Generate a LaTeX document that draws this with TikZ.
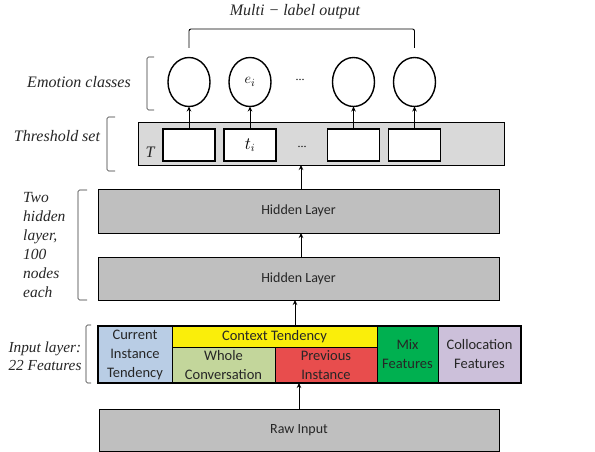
\documentclass[tikz,border=0pt]{standalone}
\usepackage{fontspec}
\setmainfont{Liberation Serif}
\newfontfamily\carl{Carlito}
\usetikzlibrary{arrows.meta,shapes.geometric}
\definecolor{hgray}{RGB}{191,191,191}
\definecolor{tgray}{RGB}{217,217,217}
\definecolor{cblue}{RGB}{185,205,229}
\definecolor{cyellow}{RGB}{250,238,10}
\definecolor{clgreen}{RGB}{195,214,155}
\definecolor{cred}{RGB}{232,77,77}
\definecolor{cgreen}{RGB}{0,176,80}
\definecolor{clav}{RGB}{204,192,218}
\definecolor{txt}{RGB}{38,38,38}
\tikzset{
  box/.style={draw=black, line width=1pt, inner sep=0pt, outer sep=0pt, text=txt, font=\carl\fontsize{14}{16}\selectfont},
  cell/.style={box, align=center, font=\carl\fontsize{14.5}{19}\selectfont},
  wbox/.style={draw=black, line width=1.2pt, fill=white, inner sep=0pt, outer sep=0pt, minimum width=52pt, minimum height=32pt, font=\fontsize{16}{18}\selectfont},
  cls/.style={draw=black, line width=1.4pt, ellipse, inner sep=0pt, outer sep=0pt, minimum width=42pt, minimum height=49pt, font=\fontsize{15}{17}\selectfont},
  arr/.style={line width=1pt, -{Stealth[length=5pt,width=4.5pt]}},
  brk/.style={line width=0.7pt, rounded corners=1.5pt, black!80},
  lab/.style={font=\itshape\fontsize{16}{19}\selectfont, inner sep=0pt, text=txt},
  dots/.style={font=\fontsize{12}{14}\selectfont, inner sep=0pt},
}
\begin{document}
\begin{tikzpicture}[x=1pt,y=-1pt]
\useasboundingbox (0,0) rectangle (595,452);

% Raw input
\node[box, fill=hgray, minimum width=400pt, minimum height=42pt] (raw) at (299,430) {Raw Input};

% Input layer cells
\node[cell, fill=cblue, minimum width=74pt, minimum height=57pt] (cur) at (135,354.5) {Current\\Instance\\Tendency};
\node[cell, fill=cyellow, minimum width=205pt, minimum height=21pt] (ctx) at (274.5,336.5) {Context Tendency};
\node[cell, fill=clgreen, minimum width=103pt, minimum height=36pt] (whole) at (223.5,365) {Whole\\Conversation};
\node[cell, fill=cred, minimum width=102pt, minimum height=36pt] (prev) at (326,365) {Previous\\Instance};
\node[cell, fill=cgreen, minimum width=61pt, minimum height=57pt] (mix) at (407.5,354.5) {Mix\\Features};
\node[cell, fill=clav, minimum width=83pt, minimum height=57pt] (coll) at (479.5,354.5) {Collocation\\Features};
\draw[line width=1.3pt] (98,326) rectangle (521,383);
\coordinate (inTop) at (295,326);
\coordinate (inBot) at (299,383);

% Hidden layers
\node[box, fill=hgray, minimum width=401pt, minimum height=43pt] (h2) at (298.5,278.5) {Hidden Layer};
\node[box, fill=hgray, minimum width=401pt, minimum height=44pt] (h1) at (298.5,211) {Hidden Layer};

% Threshold set
\node[box, fill=tgray, minimum width=366pt, minimum height=42pt] (th) at (321,144) {};
\node[lab] (T) at (150,152) {T};
\node[wbox] (t1) at (189,145) {};
\node[wbox] (t2) at (250,145) {$t_i$};
\node[dots] (tdots) at (302,147) {...};
\node[wbox] (t3) at (353.5,145) {};
\node[wbox] (t4) at (414.5,145) {};

% Emotion classes
\node[cls] (c1) at (189,82) {};
\node[cls] (c2) at (250,82) {$e_i$};
\node[dots] (cdots) at (300,80) {...};
\node[cls] (c3) at (353.5,82) {};
\node[cls] (c4) at (414.5,82) {};

% Arrows
\draw[arr] (raw.north -| inBot) -- (inBot);
\draw[arr] (inTop) -- (inTop |- h2.south);
\draw[arr] ([xshift=2.5pt]h2.north) -- ([xshift=2.5pt]h1.south);
\draw[arr] ([xshift=2.5pt]h1.north) -- ([xshift=2.5pt]h1.north |- th.south);
\draw[arr] (t1.north) -- (c1.south);
\draw[arr] (t2.north) -- (c2.south);
\draw[arr] (t3.north) -- (c3.south);
\draw[arr] (t4.north) -- (c4.south);

% Multi-label bracket
\coordinate (m1) at (189,48);
\coordinate (m4) at (414.5,48);
\draw[line width=0.9pt, rounded corners=2pt] (m1) -- (189,29) -- (414.5,29) -- (m4);
\node[lab] (mlo) at (295,12) {Multi − label output};

% Left labels and brackets
\node[lab] (emo) at (79,82) {Emotion classes};
\draw[brk] (154,57) -- (147,57) -- (147,110) -- (154,110);
\node[lab] (thl) at (57,136) {Threshold set};
\draw[brk] (115,117) -- (107,117) -- (107,171) -- (115,171);
\node[lab, anchor=west, align=left, font=\itshape\fontsize{15.5}{19}\selectfont] (hid) at (23,245.5) {Two\\hidden\\layer,\\100\\nodes\\each};
\draw[brk] (87,190) -- (78,190) -- (78,300) -- (87,300);
\node[lab, align=left, font=\itshape\fontsize{15.3}{18}\selectfont] (inl) at (45,356) {Input layer:\\22 Features};
\draw[brk] (91,325) -- (86,325) -- (86,383) -- (91,383);
\end{tikzpicture}
\end{document}
